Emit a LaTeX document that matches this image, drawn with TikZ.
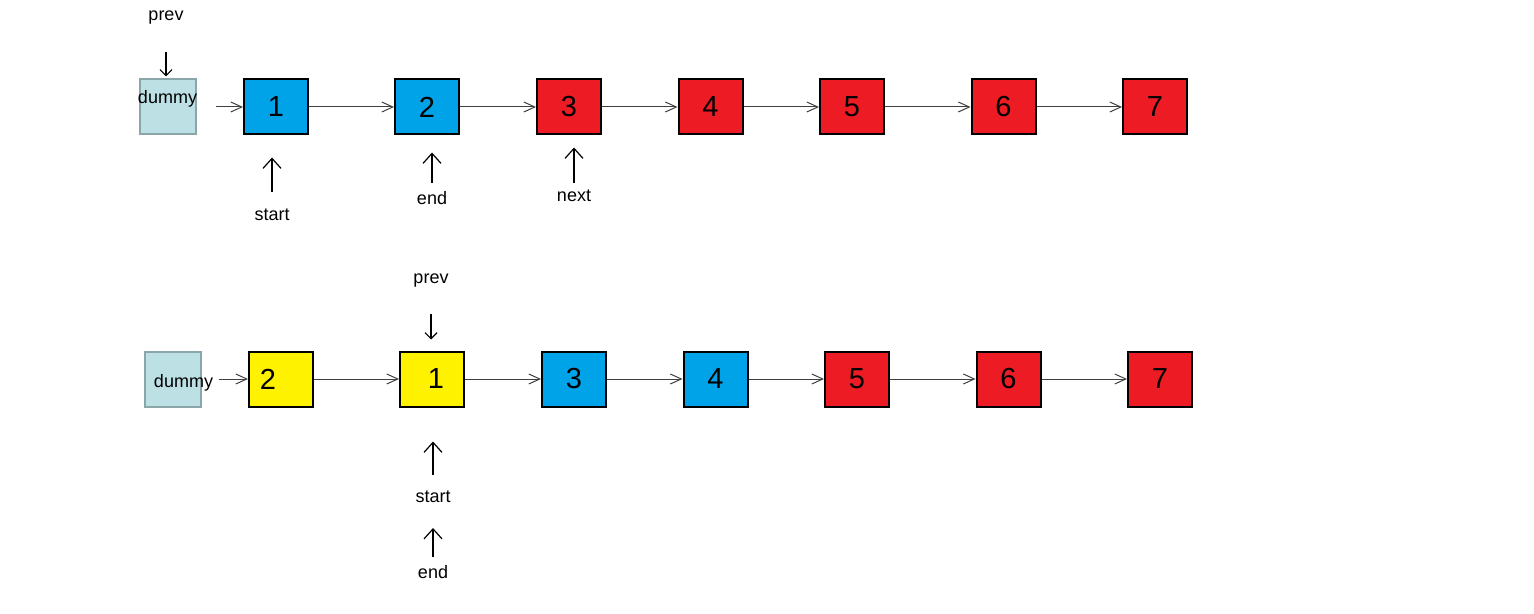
\documentclass[tikz,border=0pt]{standalone}
\usepackage{fontspec}
\setmainfont{Liberation Sans}
\usepackage{tikz}
\usetikzlibrary{arrows.meta,positioning}
\definecolor{NodeBlue}{HTML}{00A2E8}
\definecolor{NodeRed}{HTML}{ED1C24}
\definecolor{NodeYellow}{HTML}{FFF200}
\definecolor{DummyFill}{HTML}{BCE0E4}
\definecolor{DummyLine}{HTML}{8AA6A8}
\definecolor{LinkGray}{HTML}{404040}

\begin{document}
\begin{tikzpicture}[
  x=0.5pt,y=-0.5pt,
  box/.style={draw,line width=1pt,minimum width=32pt,minimum height=27.5pt,inner sep=0pt,font=\fontsize{14.5}{17}\selectfont},
  dummybox/.style={draw=DummyLine,fill=DummyFill,line width=1pt,minimum width=28pt,minimum height=27.5pt,inner sep=0pt},
  lbl/.style={inner sep=0pt,font=\fontsize{9}{11}\selectfont},
  link/.style={-{Straight Barb[length=5.5pt,width=5pt]},draw=LinkGray,line width=0.5pt},
  ptr/.style={-{Straight Barb[length=5pt,width=9pt]},line width=0.6pt},
  hookptr/.style={-{Straight Barb[length=3pt,width=6pt]},line width=0.6pt}
]
\useasboundingbox (0,0) rectangle (1534,614);

% first list
\node[dummybox,label={[lbl,yshift=4pt]center:dummy}] (dummyA) at (167.5,107) {};
\node[box,fill=NodeBlue] (a1) at (276,107) {1};
\node[box,fill=NodeBlue] (a2) at (427,107) {2};
\node[box,fill=NodeRed] (a3) at (569,107) {3};
\node[box,fill=NodeRed] (a4) at (710.5,107) {4};
\node[box,fill=NodeRed] (a5) at (852,107) {5};
\node[box,fill=NodeRed] (a6) at (1003.5,107) {6};
\node[box,fill=NodeRed] (a7) at (1155,107) {7};
\draw[link] ([xshift=9.5pt]dummyA.east) -- (a1);
\draw[link] (a1) -- (a2);
\draw[link] (a2) -- (a3);
\draw[link] (a3) -- (a4);
\draw[link] (a4) -- (a5);
\draw[link] (a5) -- (a6);
\draw[link] (a6) -- (a7);

\node[lbl] (prevA) at (166,18) {prev};
\node[lbl] (startA) at (272,215) {start};
\node[lbl] (endA) at (432,198) {end};
\node[lbl] (nextA) at (574,196) {next};
\draw[hookptr,shorten >=1pt] ([yshift=-17pt]prevA.center) -- (prevA |- dummyA.north);
\draw[ptr,shorten >=11pt] ([yshift=11.5pt]startA.center) -- (startA |- a1.south);
\draw[ptr,shorten >=8.5pt] ([yshift=7.5pt]endA.center) -- (endA |- a2.south);
\draw[ptr,shorten >=6pt] ([yshift=6.5pt]nextA.center) -- (nextA |- a3.south);

% second list
\node[dummybox,label={[lbl,xshift=5.5pt,yshift=-2pt]center:dummy}] (dummyB) at (172.5,379) {};
\node[box,fill=NodeYellow] (b2) at (281,379) {\hspace*{-13pt}2};
\node[box,fill=NodeYellow] (b1) at (432,379) {\hspace*{4pt}1};
\node[box,fill=NodeBlue] (b3) at (574,379) {3};
\node[box,fill=NodeBlue] (b4) at (715.5,379) {4};
\node[box,fill=NodeRed] (b5) at (857,379) {5};
\node[box,fill=NodeRed] (b6) at (1008.5,379) {6};
\node[box,fill=NodeRed] (b7) at (1160,379) {7};
\draw[link] ([xshift=8.5pt]dummyB.east) -- (b2);
\draw[link] (b2) -- (b1);
\draw[link] (b1) -- (b3);
\draw[link] (b3) -- (b4);
\draw[link] (b4) -- (b5);
\draw[link] (b5) -- (b6);
\draw[link] (b6) -- (b7);

\node[lbl] (prevB) at (431,281) {prev};
\node[lbl] (startB) at (433,497) {start};
\node[lbl] (endB) at (433,572) {end};
\draw[hookptr,shorten >=5.5pt] ([yshift=-16.5pt]prevB.center) -- (prevB |- b1.north);
\draw[ptr,shorten >=17pt] ([yshift=11pt]startB.center) -- (startB |- b1.south);
\draw[ptr] ([yshift=7.5pt]endB.center) -- ([yshift=-15.5pt]startB.center);
\end{tikzpicture}
\end{document}
